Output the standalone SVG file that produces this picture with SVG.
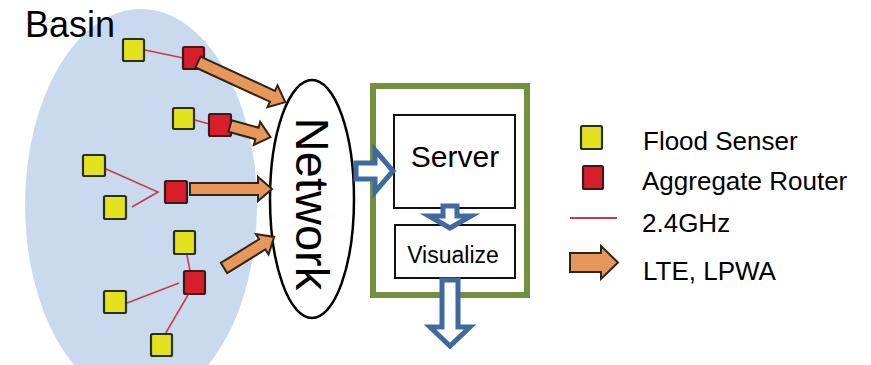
<svg xmlns="http://www.w3.org/2000/svg" width="871" height="365" viewBox="0 0 871 365">
<style>
.s{fill:#e4e21e;stroke:#26301a;stroke-width:2.2}
.r{fill:#d81e28;stroke:#3a1a1a;stroke-width:2.2}
.w{stroke:#c83a4c;stroke-width:1.6;fill:none}
.o{fill:#e8975a;stroke:#2e2418;stroke-width:2}
.b{fill:#fff;stroke:#3f6aa0;stroke-width:5;stroke-linejoin:miter}
.t{font-family:"Liberation Sans",Arial,sans-serif;fill:#000}
</style>
<rect width="871" height="365" fill="#fff"/>
<g id="basin">
<ellipse cx="141" cy="205" rx="116" ry="196" fill="#c9daee"/>
<text class="t" x="25" y="37" font-size="36">Basin</text>
</g>
<g id="links">
<path class="w" d="M145,50 L183,58"/>
<path class="w" d="M195,120 L209,124"/>
<path class="w" d="M106,169 L158,192 L132,207"/>
<path class="w" d="M187,255 L190,271"/>
<path class="w" d="M127,303 L179,283"/>
<path class="w" d="M157,348 L188,295"/>
</g>
<g id="sensors">
<rect class="s" x="123" y="39" width="21" height="22" rx="1.5"/>
<rect class="s" x="173" y="108" width="21" height="21" rx="1.5"/>
<rect class="s" x="83" y="155" width="22" height="21" rx="1.5"/>
<rect class="s" x="104" y="196" width="22" height="23" rx="1.5"/>
<rect class="s" x="174" y="231" width="21" height="23" rx="1.5"/>
<rect class="s" x="104" y="291" width="22" height="22" rx="1.5"/>
<rect class="s" x="151" y="334" width="21" height="22" rx="1.5"/>
</g>
<g id="routers">
<rect class="r" x="183" y="47" width="21" height="22" rx="1.5"/>
<rect class="r" x="209" y="114" width="22" height="22" rx="1.5"/>
<rect class="r" x="165" y="181" width="22" height="22" rx="1.5"/>
<rect class="r" x="184" y="271" width="21" height="23" rx="1.5"/>
</g>
<g id="network">
<ellipse cx="312" cy="199" rx="42" ry="119" fill="#fff" stroke="#000" stroke-width="2.5"/>
<text class="t" font-size="47" text-anchor="middle" transform="translate(296,204) rotate(90)">Network</text>
</g>
<g id="lte-arrows">
<path class="o" transform="translate(198,62) rotate(24.7)" d="M0,-6 H82 V-12 L96,0 L82,12 V6 H0 Z"/>
<path class="o" transform="translate(230,126) rotate(15.4)" d="M0,-6 H28 V-12 L42,0 L28,12 V6 H0 Z"/>
<path class="o" transform="translate(190,189)" d="M0,-6 H68 V-12 L82,0 L68,12 V6 H0 Z"/>
<path class="o" transform="translate(224,268) rotate(-31.8)" d="M0,-6 H45 V-12 L59,0 L45,12 V6 H0 Z"/>
</g>
<g id="cloud-box">
<rect x="373" y="86" width="154" height="209" fill="#fff" stroke="#72903e" stroke-width="6"/>
</g>
<g id="server">
<rect x="394" y="115" width="121" height="93" fill="#fff" stroke="#111" stroke-width="2"/>
<text class="t" x="455" y="167" font-size="30" text-anchor="middle">Server</text>
</g>
<g id="visualize">
<rect x="395" y="225" width="120" height="53" fill="#fff" stroke="#111" stroke-width="2"/>
<text class="t" x="453" y="263" font-size="23" text-anchor="middle">Visualize</text>
</g>
<g id="data-arrows">
<path class="b" d="M356,163 H375 V150 L393,171 L375,192 V179 H356 Z"/>
<path class="b" d="M443,206 V216 H429 L450,228 L471,216 H457 V206 Z"/>
<path class="b" d="M442,280 V327 H430 L450,346 L470,327 H458 V280 Z"/>
</g>
<g id="legend">
<rect class="s" x="581" y="126" width="21" height="23" rx="1.5"/>
<rect class="r" x="583" y="166" width="20" height="23" rx="1.5"/>
<path d="M570,218 H617" stroke="#c83a4c" stroke-width="2"/>
<path class="o" d="M570,253 H601 V246 L618,262.5 L601,279 V272 H570 Z" stroke-width="2.5"/>
<text class="t" x="643" y="150" font-size="26">Flood Senser</text>
<text class="t" x="642" y="190" font-size="26">Aggregate Router</text>
<text class="t" x="642" y="232" font-size="26">2.4GHz</text>
<text class="t" x="643" y="280" font-size="26">LTE, LPWA</text>
</g>
</svg>
